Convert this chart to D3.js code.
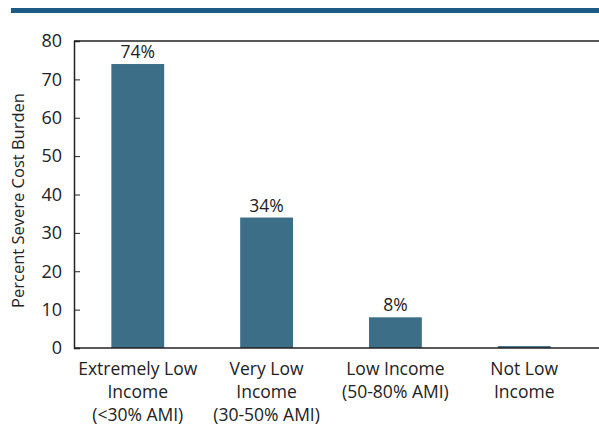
<!DOCTYPE html>
<html>
<head>
    <title>Severe Cost Burden by Income</title>
    <script src="https://cdn.jsdelivr.net/npm/d3@7"></script>
    <style>
        body { margin: 0; background: #fff; }
        text { font-family: "Open Sans", "DejaVu Sans", sans-serif; fill: #222; }
    </style>
</head>
<body>
    <svg id="chart" width="599" height="429"></svg>
    <script>
        var categories = [
            ["Extremely Low", "Income", "(<30% AMI)"],
            ["Very Low", "Income", "(30-50% AMI)"],
            ["Low Income", "(50-80% AMI)"],
            ["Not Low", "Income"]
        ];
        var values = [74, 34, 8, 0.5];
        var valueLabels = ["74%", "34%", "8%", ""];
        var yTicks = [0, 10, 20, 30, 40, 50, 60, 70, 80];

        var svg = d3.select("#chart");
        var plotLeft = 74, plotRight = 599, plotTop = 41, plotBottom = 348;

        // header rule
        svg.append("rect")
           .attr("x", 11).attr("y", 8)
           .attr("width", 588).attr("height", 5)
           .attr("fill", "#1b5b85");

        var x = d3.scaleBand()
                  .domain(d3.range(values.length))
                  .range([plotLeft, 588])
                  .paddingInner(0.59)
                  .paddingOuter(0.29);

        var y = d3.scaleLinear().domain([0, 80]).range([plotBottom, plotTop]);

        // frame lines (top and bottom run to the edge)
        svg.append("line")
           .attr("x1", plotLeft).attr("x2", plotRight)
           .attr("y1", plotTop).attr("y2", plotTop)
           .attr("stroke", "#222").attr("stroke-width", 1.5);

        svg.selectAll("rect.bar")
           .data(values)
           .enter().append("rect")
           .attr("class", "bar")
           .attr("x", function(d, i) { return x(i); })
           .attr("y", function(d) { return y(d); })
           .attr("width", x.bandwidth())
           .attr("height", function(d) { return y(0) - y(d); })
           .attr("fill", "#3d6e87");

        svg.append("line")
           .attr("x1", plotLeft).attr("x2", plotRight)
           .attr("y1", plotBottom).attr("y2", plotBottom)
           .attr("stroke", "#222").attr("stroke-width", 1.5);

        var yAxis = svg.append("g")
           .attr("transform", "translate(" + plotLeft + ",0)")
           .call(d3.axisLeft(y).tickValues(yTicks).tickSize(-6).tickPadding(12));
        yAxis.select(".domain").attr("stroke", "#222").attr("stroke-width", 1.5);
        yAxis.selectAll(".tick line").attr("stroke", "#222");
        yAxis.selectAll("text")
             .style("font-size", "18px")
             .attr("fill", "#222");

        svg.append("text")
           .attr("transform", "translate(24," + ((plotTop + plotBottom) / 2 + 6) + ") rotate(-90)")
           .attr("text-anchor", "middle")
           .style("font-size", "16.5px")
           .text("Percent Severe Cost Burden");

        svg.selectAll("text.val")
           .data(values)
           .enter().append("text")
           .attr("class", "val")
           .attr("x", function(d, i) { return x(i) + x.bandwidth() / 2; })
           .attr("y", function(d) { return y(d) - 6; })
           .attr("text-anchor", "middle")
           .style("font-size", "17.5px")
           .text(function(d, i) { return valueLabels[i]; });

        var cat = svg.selectAll("text.cat")
           .data(categories)
           .enter().append("text")
           .attr("class", "cat")
           .attr("text-anchor", "middle")
           .style("font-size", "17.5px");
        cat.selectAll("tspan")
           .data(function(d, i) { return d.map(function(s) { return {s: s, i: i}; }); })
           .enter().append("tspan")
           .attr("x", function(d) { return x(d.i) + x.bandwidth() / 2; })
           .attr("y", function(d, j) { return 375 + j * 23; })
           .text(function(d) { return d.s; });
    </script>
</body>
</html>
